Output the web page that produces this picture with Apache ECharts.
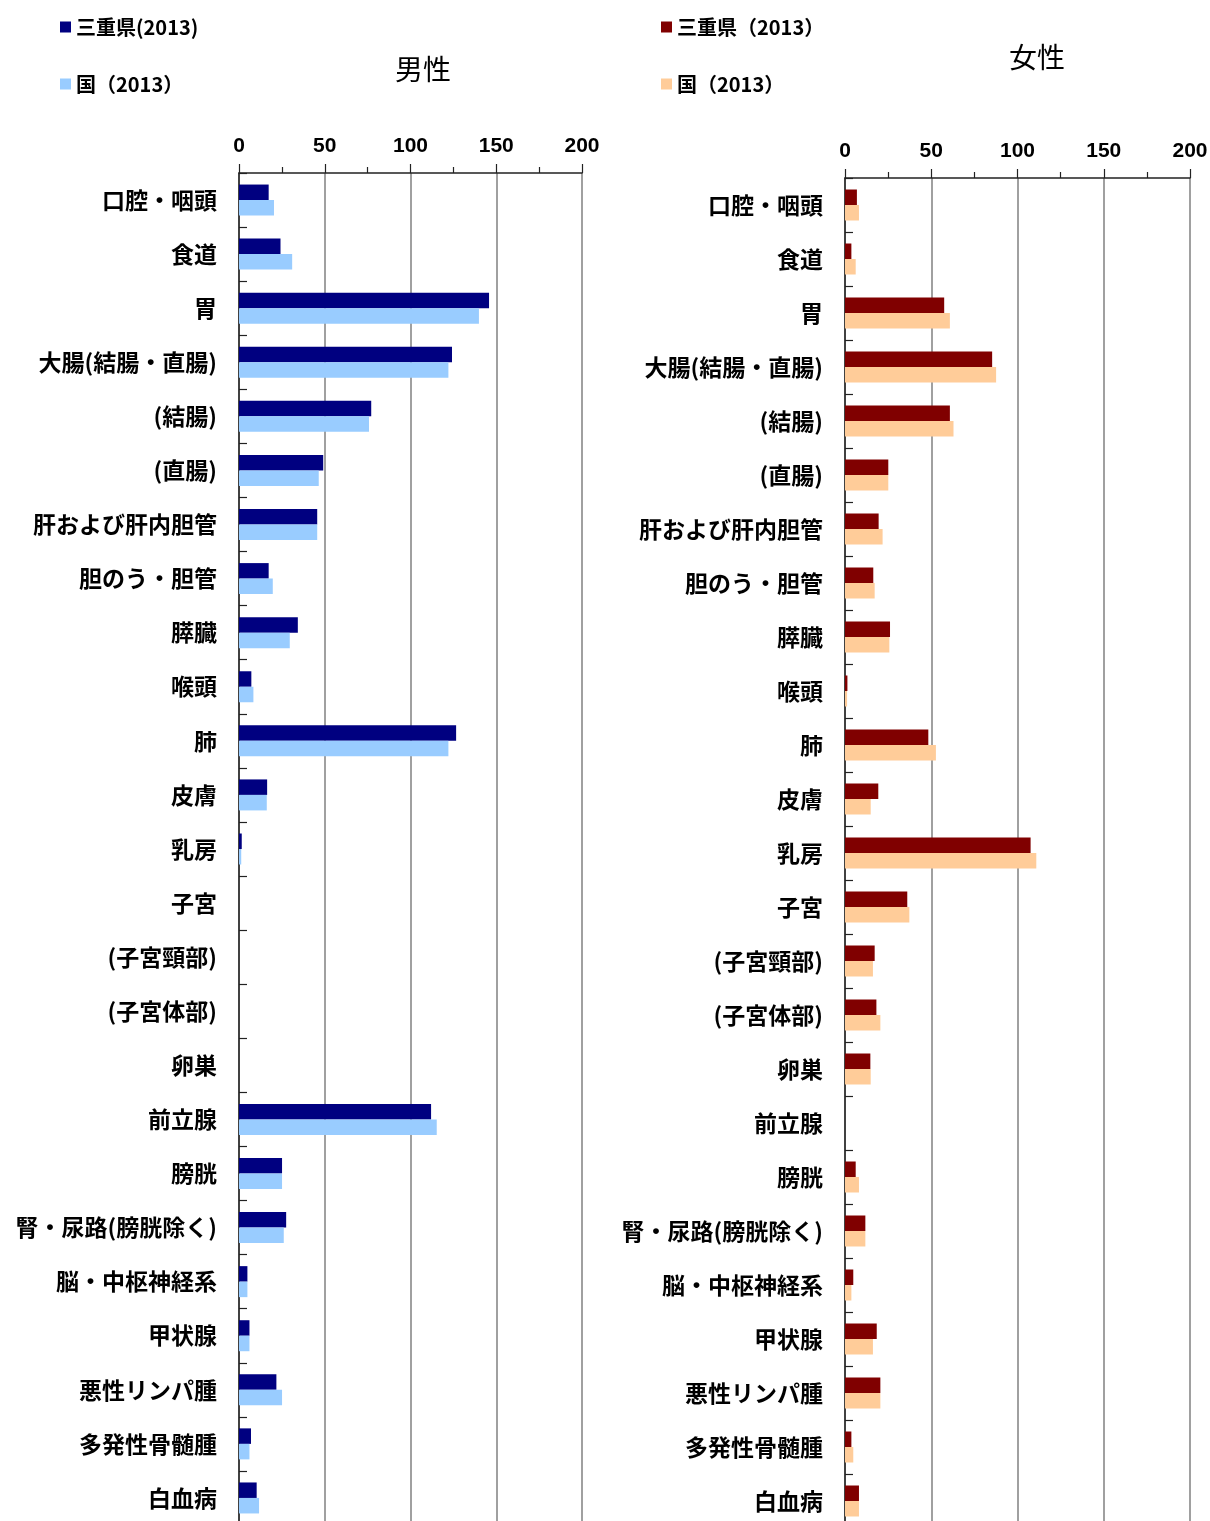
<!DOCTYPE html>
<html>
<head>
<meta charset="utf-8">
<script src="https://cdn.jsdelivr.net/npm/echarts@6/dist/echarts.min.js"></script>
<style>
html,body{margin:0;padding:0;background:#fff;}
#chart{width:1210px;height:1521px;}
</style>
</head>
<body>
<div id="chart"></div>
<script>
const categories = ['口腔・咽頭','食道','胃','大腸(結腸・直腸)','(結腸)','(直腸)','肝および肝内胆管','胆のう・胆管','膵臓','喉頭','肺','皮膚','乳房','子宮','(子宮頸部)','(子宮体部)','卵巣','前立腺','膀胱','腎・尿路(膀胱除く)','脳・中枢神経系','甲状腺','悪性リンパ腫','多発性骨髄腫','白血病'];

const maleMie    = [17.3,24.2,145.8,124.2,77.1,49.1,45.6,17.3,34.3,7.2,126.6,16.4,1.6,null,null,null,null,112.0,25.1,27.5,4.9,6.1,21.8,7.0,10.3];
const maleJapan  = [20.4,31.0,139.9,122.1,75.8,46.5,45.6,19.7,29.6,8.4,122.1,16.2,1.3,null,null,null,null,115.3,25.1,26.1,4.9,6.1,25.1,6.1,11.7];
const femaleMie  = [6.9,3.7,57.5,85.3,60.8,25.1,19.5,16.4,26.1,1.4,48.3,19.3,107.6,36.1,17.2,18.2,14.7,null,6.2,11.8,4.8,18.4,20.5,3.7,8.1];
const femaleJapan= [8.1,6.2,60.8,87.6,62.9,25.1,21.8,17.2,25.7,1.2,52.7,14.9,110.9,37.3,16.2,20.5,14.9,null,8.1,11.8,3.7,16.2,20.5,4.8,8.1];

const xTicks = [0,50,100,150,200];
const titles = ['男性','女性'];
const legendLabels = {
  'mM': '三重県(2013)',
  'mJ': '国（2013）',
  'fM': '三重県（2013）',
  'fJ': '国（2013）'
};

const chart = echarts.init(document.getElementById('chart'));
const cjk = '"Noto Sans CJK JP", "Noto Sans", sans-serif';
const num = '"Liberation Sans", Arial, sans-serif';

function xAxis(gi){
  return {
    gridIndex: gi, type:'value', position:'top',
    min: xTicks[0], max: xTicks[xTicks.length-1], interval: 50,
    axisLine:{show:true, lineStyle:{color:'#222', width:1.5}},
    axisTick:{show:true, length:9, lineStyle:{color:'#222', width:1.2}},
    minorTick:{show:true, splitNumber:2, length:6, lineStyle:{color:'#222', width:1.2}},
    splitLine:{show:true, lineStyle:{color:'#808080', width:1.5}},
    axisLabel:{color:'#000', fontSize:21, fontWeight:'bold', fontFamily:num, margin:16}
  };
}
function yAxis(gi){
  return {
    gridIndex: gi, type:'category', inverse:true, data: categories,
    axisLine:{show:true, lineStyle:{color:'#222', width:1.5}},
    axisTick:{show:true, inside:true, length:8, lineStyle:{color:'#222', width:1.2}},
    splitLine:{show:false},
    axisLabel:{color:'#000', fontSize:23, fontWeight:'bold', fontFamily:cjk, margin:22, interval:0}
  };
}

chart.setOption({
  backgroundColor:'#fff',
  animation:false,
  title:[
    {text:titles[0], left:418, top:50, textAlign:'center', textStyle:{fontSize:28, fontWeight:'normal', color:'#000', fontFamily:cjk}},
    {text:titles[1], left:1032, top:38, textAlign:'center', textStyle:{fontSize:28, fontWeight:'normal', color:'#000', fontFamily:cjk}}
  ],
  legend:[
    {data:['mM','mJ'], orient:'vertical', left:55, top:12, itemWidth:11, itemHeight:11, itemGap:37,
     icon:'rect', formatter: n => legendLabels[n],
     textStyle:{fontSize:20, lineHeight:20, color:'#000', fontFamily:cjk, fontWeight:'bold'}},
    {data:['fM','fJ'], orient:'vertical', left:656, top:12, itemWidth:11, itemHeight:11, itemGap:37,
     icon:'rect', formatter: n => legendLabels[n],
     textStyle:{fontSize:20, lineHeight:20, color:'#000', fontFamily:cjk, fontWeight:'bold'}}
  ],
  grid:[
    {left:239, top:173, width:343, height:1352, containLabel:false, outerBoundsMode:'none'},
    {left:845, top:178, width:345, height:1350, containLabel:false, outerBoundsMode:'none'}
  ],
  xAxis:[xAxis(0), xAxis(1)],
  yAxis:[yAxis(0), yAxis(1)],
  series:[
    {name:'mM', type:'bar', xAxisIndex:0, yAxisIndex:0, data:maleMie, barWidth:15.5, barGap:'0%', itemStyle:{color:'#000080'}},
    {name:'mJ', type:'bar', xAxisIndex:0, yAxisIndex:0, data:maleJapan, barWidth:15.5, barGap:'0%', itemStyle:{color:'#99CCFF'}},
    {name:'fM', type:'bar', xAxisIndex:1, yAxisIndex:1, data:femaleMie, barWidth:15.5, barGap:'0%', itemStyle:{color:'#800000'}},
    {name:'fJ', type:'bar', xAxisIndex:1, yAxisIndex:1, data:femaleJapan, barWidth:15.5, barGap:'0%', itemStyle:{color:'#FFCC99'}}
  ]
});
</script>
</body>
</html>
